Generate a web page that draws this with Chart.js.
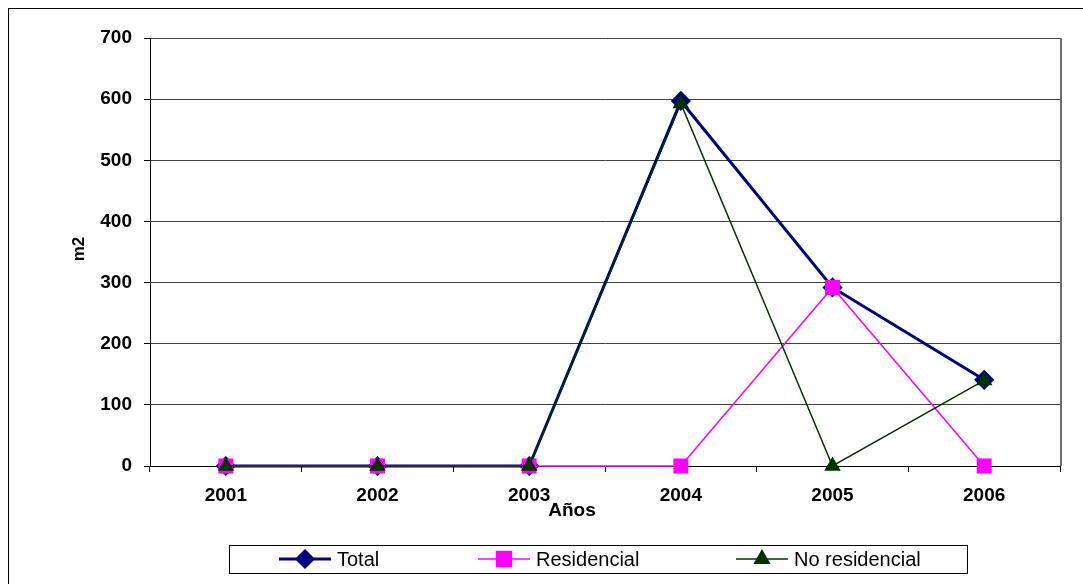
<!DOCTYPE html>
<html>
<head>
<meta charset="utf-8">
<title>m2 por año</title>
<script src="https://cdn.jsdelivr.net/npm/chart.js@4.4.0/dist/chart.umd.min.js"></script>
<style>
    html, body { margin: 0; padding: 0; background: #fff; }
    #wrap { width: 1083px; height: 584px; position: relative; }
</style>
</head>
<body>
<div id="wrap"><canvas id="chart"></canvas></div>
<script>
const years = ['2001', '2002', '2003', '2004', '2005', '2006'];
const total = [0, 0, 0, 597, 292, 141];
const residencial = [0, 0, 0, 0, 292, 0];
const noResidencial = [0, 0, 0, 593, 0, 140];
const Y_MIN = 0;
const Y_MAX = 700;
const Y_STEP = 100;

const FONT = "'Liberation Sans', Arial, sans-serif";

// Excel-style frame, axis titles and boxed legend
const excelFrame = {
    id: 'excelFrame',
    beforeDraw(chart) {
        const ctx = chart.ctx;
        ctx.save();
        ctx.fillStyle = '#fff';
        ctx.fillRect(0, 0, chart.width, chart.height);
        ctx.strokeStyle = '#000';
        ctx.lineWidth = 1;
        ctx.strokeRect(8.5, 8.5, chart.width, chart.height);
        ctx.restore();
    },
    beforeDatasetsDraw(chart) {
        const {ctx, chartArea: a} = chart;
        ctx.save();
        ctx.strokeStyle = '#6e6e6e';
        ctx.lineWidth = 2;
        ctx.beginPath();
        ctx.moveTo(Math.round(a.right) + 1, a.top);
        ctx.lineTo(Math.round(a.right) + 1, a.bottom);
        ctx.stroke();
        ctx.restore();
    },
    afterDraw(chart) {
        const ctx = chart.ctx;
        ctx.save();
        ctx.fillStyle = '#000';
        ctx.textAlign = 'center';
        ctx.textBaseline = 'middle';

        ctx.font = 'bold 19px ' + FONT;
        ctx.fillText('Años', 572, 511);

        ctx.save();
        ctx.translate(79, 249);
        ctx.rotate(-Math.PI / 2);
        ctx.font = 'bold 17px ' + FONT;
        ctx.fillText('m2', 0, 0);
        ctx.restore();

        // legend
        ctx.strokeStyle = '#000';
        ctx.lineWidth = 1;
        ctx.strokeRect(229.5, 545.5, 738, 28);
        const cy = 559;
        const starts = [279, 478, 736];
        ctx.font = '20px ' + FONT;
        ctx.textAlign = 'left';
        chart.data.datasets.forEach((ds, i) => {
            const x0 = starts[i];
            ctx.strokeStyle = ds.borderColor;
            ctx.lineWidth = ds.borderWidth;
            ctx.beginPath();
            ctx.moveTo(x0, cy);
            ctx.lineTo(x0 + 52, cy);
            ctx.stroke();
            ctx.fillStyle = ds.pointBackgroundColor;
            ctx.strokeStyle = ds.pointBorderColor;
            Chart.helpers.drawPoint(ctx, {
                pointStyle: ds.pointStyle,
                radius: ds.legendRadius,
                rotation: 0,
                borderWidth: 1
            }, x0 + 26, cy);
            ctx.fillStyle = '#000';
            ctx.fillText(ds.label, x0 + 58, cy + 1);
        });
        ctx.restore();
    }
};

new Chart(document.getElementById('chart'), {
    type: 'line',
    data: {
        labels: years,
        datasets: [{
            label: 'Total',
            data: total,
            borderColor: '#000080',
            backgroundColor: '#000080',
            pointBackgroundColor: '#000080',
            pointBorderColor: '#000080',
            borderWidth: 3,
            pointStyle: 'rectRot',
            pointRadius: 8,
            legendRadius: 8,
            tension: 0,
            clip: false,
            order: 2
        }, {
            label: 'Residencial',
            data: residencial,
            borderColor: '#ff00ff',
            backgroundColor: '#ff00ff',
            pointBackgroundColor: '#ff00ff',
            pointBorderColor: '#ff00ff',
            borderWidth: 1.5,
            pointStyle: 'rect',
            pointRadius: 9.5,
            legendRadius: 10.5,
            tension: 0,
            clip: false,
            order: 1
        }, {
            label: 'No residencial',
            data: noResidencial,
            borderColor: '#003300',
            backgroundColor: '#003300',
            pointBackgroundColor: '#003300',
            pointBorderColor: '#003300',
            borderWidth: 1.5,
            pointStyle: 'triangle',
            pointRadius: 8,
            legendRadius: 8.5,
            tension: 0,
            clip: false,
            order: 0
        }]
    },
    options: {
        responsive: true,
        maintainAspectRatio: false,
        animation: false,
        layout: {padding: {top: 38, right: 23, left: 0, bottom: 0}},
        plugins: {legend: {display: false}, tooltip: {enabled: false}},
        scales: {
            x: {
                type: 'category',
                offset: true,
                afterFit: (s) => { s.height = 118; },
                grid: {
                    offset: true,
                    drawOnChartArea: false,
                    drawTicks: true,
                    tickLength: 6,
                    tickColor: '#000'
                },
                border: {color: '#000', width: 1},
                ticks: {
                    color: '#000',
                    font: {family: FONT, size: 19, weight: 'bold'},
                    padding: 12,
                    maxRotation: 0
                }
            },
            y: {
                min: Y_MIN,
                max: Y_MAX,
                afterFit: (s) => { s.width = 150; },
                grid: {
                    color: '#404040',
                    tickColor: '#000',
                    tickLength: 6
                },
                border: {color: '#000', width: 1},
                ticks: {
                    stepSize: Y_STEP,
                    color: '#000',
                    font: {family: FONT, size: 19, weight: 'bold'},
                    padding: 12
                }
            }
        }
    },
    plugins: [excelFrame]
});
</script>
</body>
</html>
